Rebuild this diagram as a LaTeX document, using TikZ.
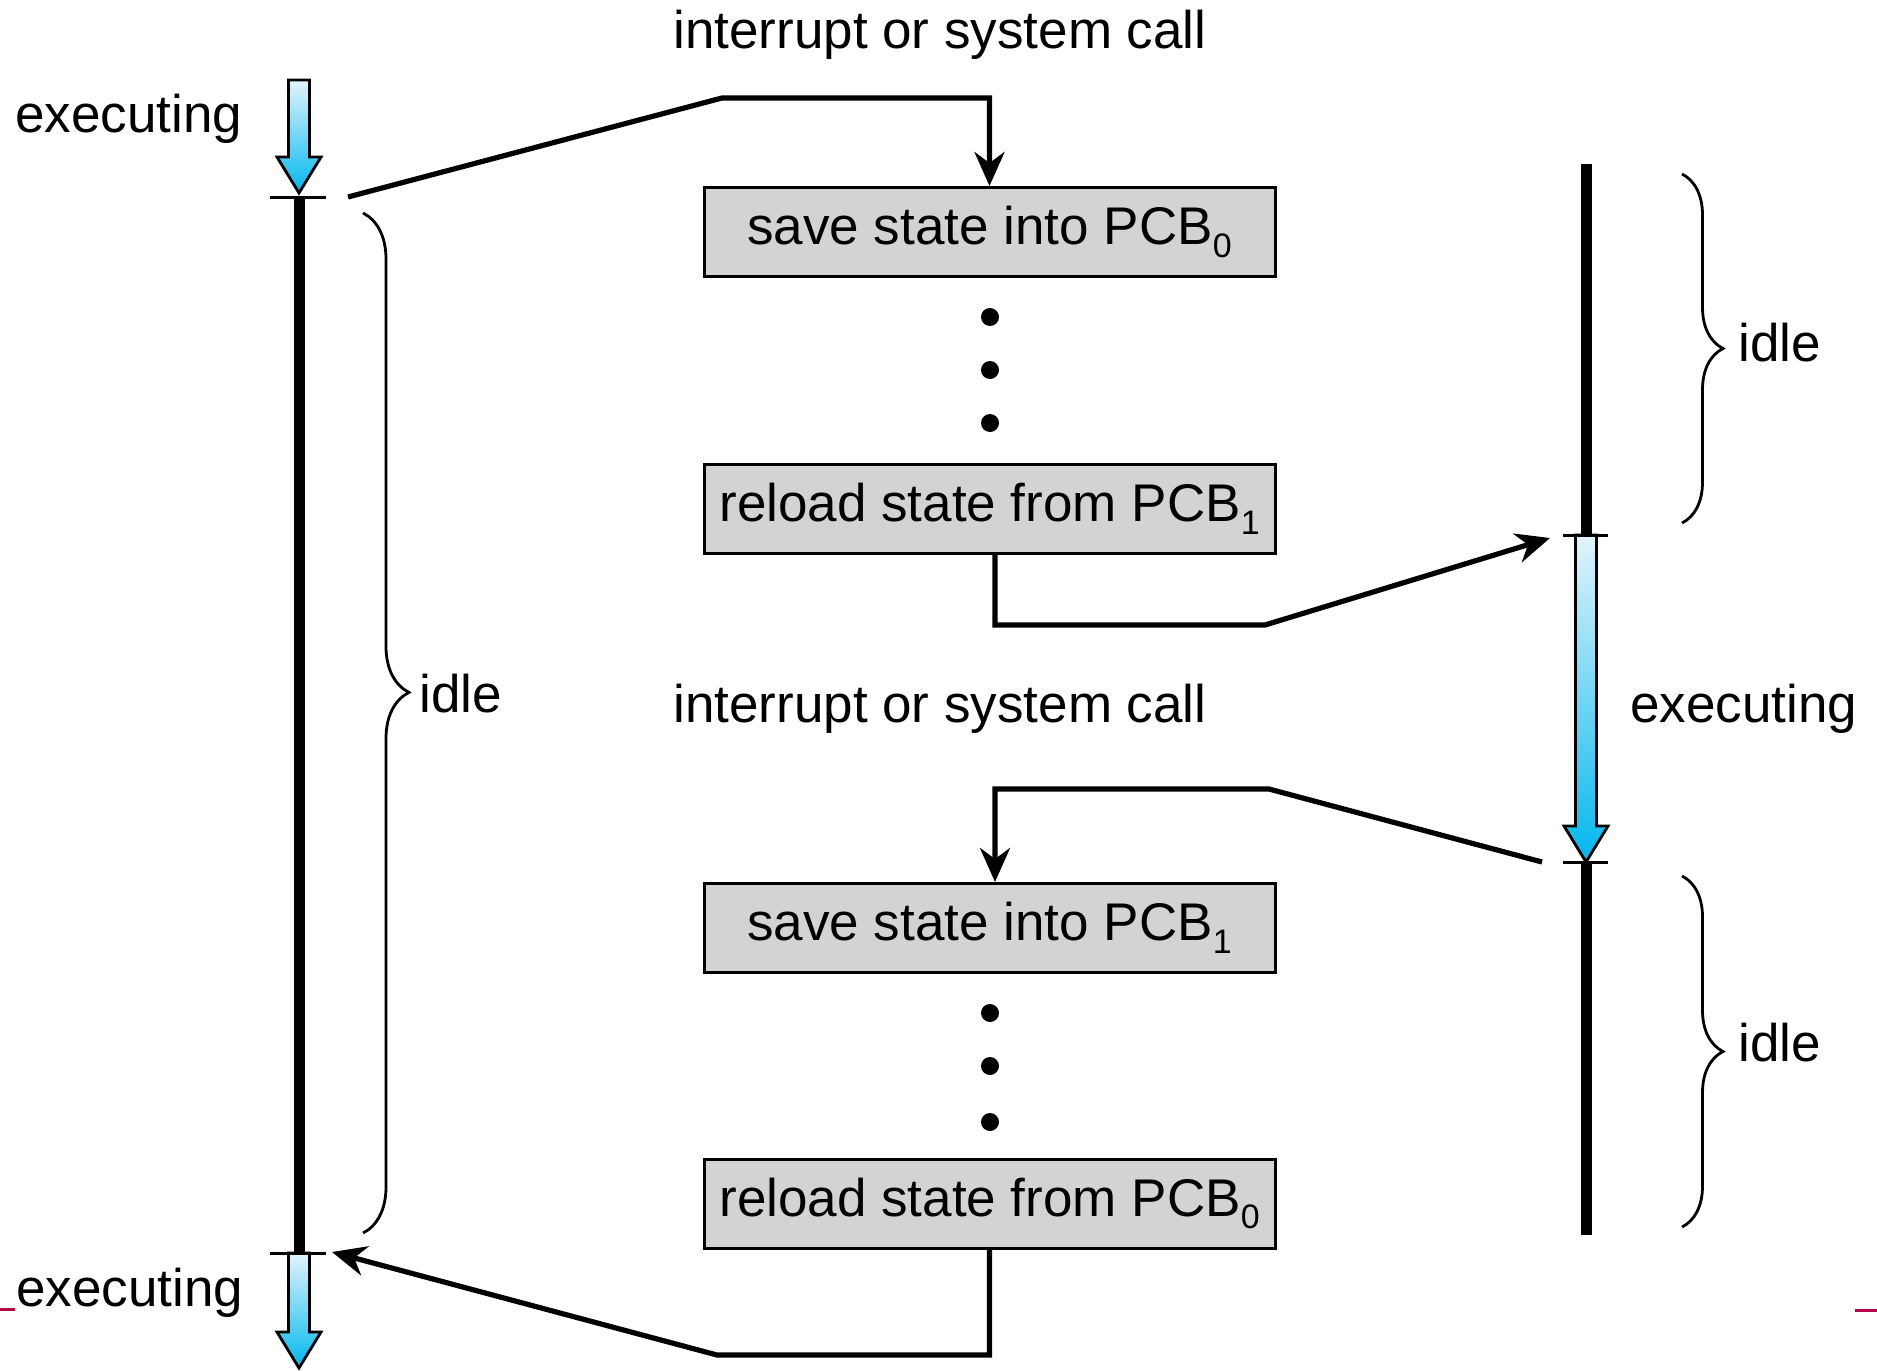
\documentclass[tikz,border=0pt]{standalone}
\usepackage{fontspec}
\setmainfont{Liberation Sans}
\usepackage{xcolor}
\usepackage{tikz}
\usetikzlibrary{arrows.meta,decorations.pathreplacing}

\definecolor{boxgray}{HTML}{D1D3D4}
\definecolor{flowtop}{HTML}{E2F4FC}
\definecolor{flowbot}{HTML}{00B8EE}
\definecolor{pagered}{HTML}{B5084A}

% PCB with its index set low
\newcommand{\pcb}[1]{PCB\raisebox{-0.45ex}{\fontsize{17}{17}\selectfont #1}}

% blue execution arrow: x, top, tip
\newcommand{\flowarrow}[3]{%
	\shade[top color=flowtop,bottom color=flowbot,draw=black,line width=1.4pt,line join=miter]
	(#1-10.5,#2) -- (#1+10.5,#2) -- (#1+10.5,#3-36) -- (#1+22,#3-36) -- (#1,#3)
	-- (#1-22,#3-36) -- (#1-10.5,#3-36) -- cycle;}

\begin{document}
\begin{tikzpicture}[x=0.5pt,y=-0.5pt,
		every node/.style={font=\fontsize{26.5}{30}\selectfont},
		lbl/.style={inner sep=0pt,anchor=base west},
		state/.style={draw,line width=1.5pt,fill=boxgray,minimum width=285.5pt,minimum height=44.5pt,inner sep=0pt},
		link/.style={line width=2.6pt,-{Stealth[length=17pt,width=15pt]}},
		timeline/.style={line width=5.5pt},
		timetick/.style={line width=1.5pt},
		idlebrace/.style={decorate,decoration={brace,amplitude=#1},line width=1.4pt}]
	\useasboundingbox (0,0) rectangle (1877,1370);

	% Draw states
	\node[state] (save0) at (989.5,232) {save state into \pcb{0}};
	\node[state] (reload1) at (989.5,508.5) {reload state from \pcb{1}};
	\node[state] (save1) at (989.5,928) {save state into \pcb{1}};
	\node[state] (reload0) at (989.5,1203.5) {reload state from \pcb{0}};
	\foreach \y in {317,370,423,1013,1066,1122}
	\fill (990,\y) circle[radius=4.5pt];

	% Draw process P0 (left)
	\draw[timeline] (299,197) -- (299,1253);
	\flowarrow{299}{80}{193}
	\flowarrow{299}{1253}{1368}
	\draw[timetick] (270,197) -- (326,197);
	\draw[timetick] (270,1253) -- (326,1253);

	% Draw process P1 (right)
	\draw[timeline] (1586,164) -- (1586,535);
	\draw[timeline] (1586,862) -- (1586,1235);
	\flowarrow{1586}{535}{862}
	\draw[timetick] (1563,535) -- (1608,535);
	\draw[timetick] (1563,862) -- (1608,862);

	% Braces
	\draw[idlebrace=23pt,decoration={aspect=0.47}] (363,213) -- (363,1233);
	\draw[idlebrace=20.5pt] (1682,174) -- (1682,523);
	\draw[idlebrace=20.5pt] (1682,876) -- (1682,1227);

	% Labels
	\node[lbl] (exectop) at (15,133) {executing};
	\node[lbl] (execbot) at (16,1306) {executing};
	\node[lbl] (execright) at (1630,722) {executing};
	\node[lbl] (idleleft) at (419,712) {idle};
	\node[lbl] (idletop) at (1738,361) {idle};
	\node[lbl] (idlebot) at (1738,1061) {idle};
	\node[lbl] (irqtop) at (673,49) {interrupt or system call};
	\node[lbl] (irqmid) at (673,722) {interrupt or system call};

	% Switches
	\coordinate (p0out) at (348,197);
	\coordinate (p1in) at (1550,538);
	\coordinate (p1out) at (1542,862);
	\coordinate (p0in) at (332,1252);
	\draw[link] (p0out) -- (722,98) -| (save0.north);
	\draw[link] ([xshift=2.75pt]reload1.south) |- (1265,625) -- (p1in);
	\draw[link] (p1out) -- (1269,789) -| ([xshift=2.75pt]save1.north);
	\draw[link] (reload0.south) |- (717,1355) -- (p0in);

	% page edge
	\draw[pagered,line width=1.5pt] (0,1309) -- (15,1309);
	\draw[pagered,line width=1.5pt] (1855,1310) -- (1877,1310);

\end{tikzpicture}
\end{document}
